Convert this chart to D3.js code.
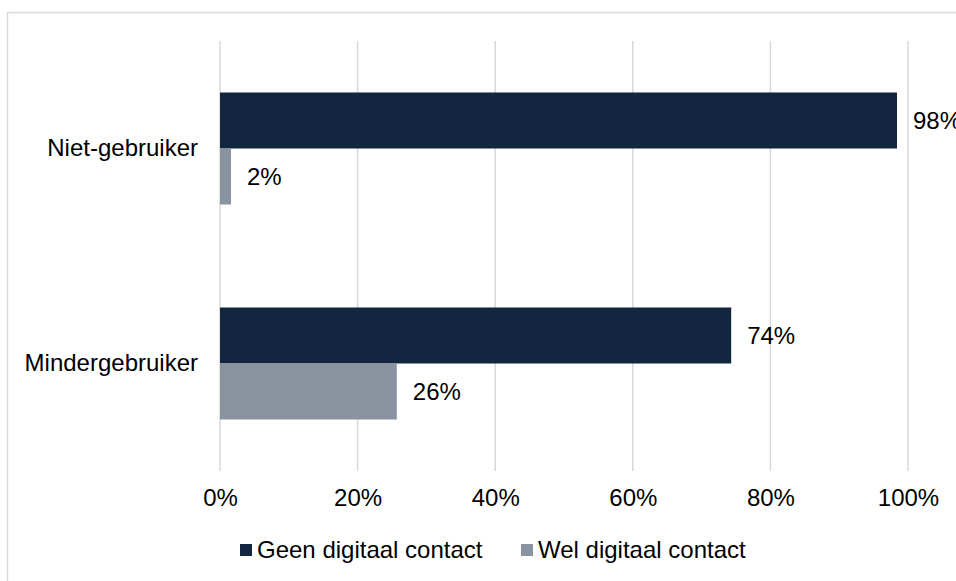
<!DOCTYPE html>
<html>
<head>
<meta charset="utf-8">
<script src="https://cdn.jsdelivr.net/npm/d3@7"></script>
<style>
  html, body { margin: 0; padding: 0; background: #fff; }
  svg { display: block; font-family: "Liberation Sans", Arial, sans-serif; }
</style>
</head>
<body>
<svg id="chart" width="956" height="581"></svg>
<script>
const categories = ["Niet-gebruiker", "Mindergebruiker"];
const seriesNames = ["Geen digitaal contact", "Wel digitaal contact"];
const geenValues = [0.984, 0.743];
const welValues = [0.016, 0.257];
const tickValues = [0, 0.2, 0.4, 0.6, 0.8, 1.0];
const colors = ["#12263f", "#8a94a1"];

const seriesValues = [geenValues, welValues];
const svg = d3.select("#chart");
const fontSize = 24;

// outer frame
svg.append("rect")
  .attr("x", 7.5).attr("y", 12.5)
  .attr("width", 1000).attr("height", 1000)
  .attr("fill", "none").attr("stroke", "#d9d9d9").attr("stroke-width", 1.5);

const x = d3.scaleLinear().domain([0, 1]).range([220, 908]);
const y = d3.scaleBand().domain(categories).range([41, 471])
  .paddingInner(0.479).paddingOuter(0.2395);
const ySub = d3.scaleBand().domain(seriesNames).range([0, y.bandwidth()]);

// gridlines
svg.append("g").selectAll("line").data(tickValues).join("line")
  .attr("x1", d => x(d)).attr("x2", d => x(d))
  .attr("y1", 41).attr("y2", 471)
  .attr("stroke", "#d9d9d9").attr("stroke-width", 1.5);

// x axis labels via d3 axis
const xAxis = d3.axisBottom(x).tickValues(tickValues).tickFormat(d3.format(".0%")).tickSize(0).tickPadding(0);
const gx = svg.append("g").attr("transform", "translate(0,489)").call(xAxis);
gx.select(".domain").remove();
gx.selectAll("text").attr("font-size", fontSize).attr("fill", "#000")
  .attr("font-family", "Liberation Sans, Arial, sans-serif").attr("dy", "0.71em");

// y axis labels
const yAxis = d3.axisLeft(y).tickSize(0).tickPadding(22);
const gy = svg.append("g").attr("transform", `translate(${x(0)},0)`).call(yAxis);
gy.select(".domain").remove();
gy.selectAll("text").attr("font-size", fontSize).attr("fill", "#000")
  .attr("font-family", "Liberation Sans, Arial, sans-serif");

// bars
const fmt = d3.format(".0%");
seriesNames.forEach((s, si) => {
  const g = svg.append("g");
  const data = categories.map((c, ci) => ({ c, v: seriesValues[si][ci] }));
  g.selectAll("rect").data(data).join("rect")
    .attr("x", x(0))
    .attr("y", d => y(d.c) + ySub(s))
    .attr("width", d => x(d.v) - x(0))
    .attr("height", ySub.bandwidth())
    .attr("fill", colors[si]);
  g.selectAll("text").data(data).join("text")
    .attr("x", d => x(d.v) + 16)
    .attr("y", d => y(d.c) + ySub(s) + ySub.bandwidth() / 2)
    .attr("dy", "0.35em")
    .attr("font-size", fontSize)
    .attr("fill", "#000")
    .text(d => fmt(d.v));
});

// legend
const legendItems = [{ name: seriesNames[0], x: 240 }, { name: seriesNames[1], x: 521 }];
const lg = svg.append("g");
legendItems.forEach((it, i) => {
  lg.append("rect").attr("x", it.x).attr("y", 544).attr("width", 12).attr("height", 12).attr("fill", colors[i]);
  lg.append("text").attr("x", it.x + 17).attr("y", 550).attr("dy", "0.35em")
    .attr("font-size", fontSize).attr("fill", "#000").text(it.name);
});
</script>
</body>
</html>
